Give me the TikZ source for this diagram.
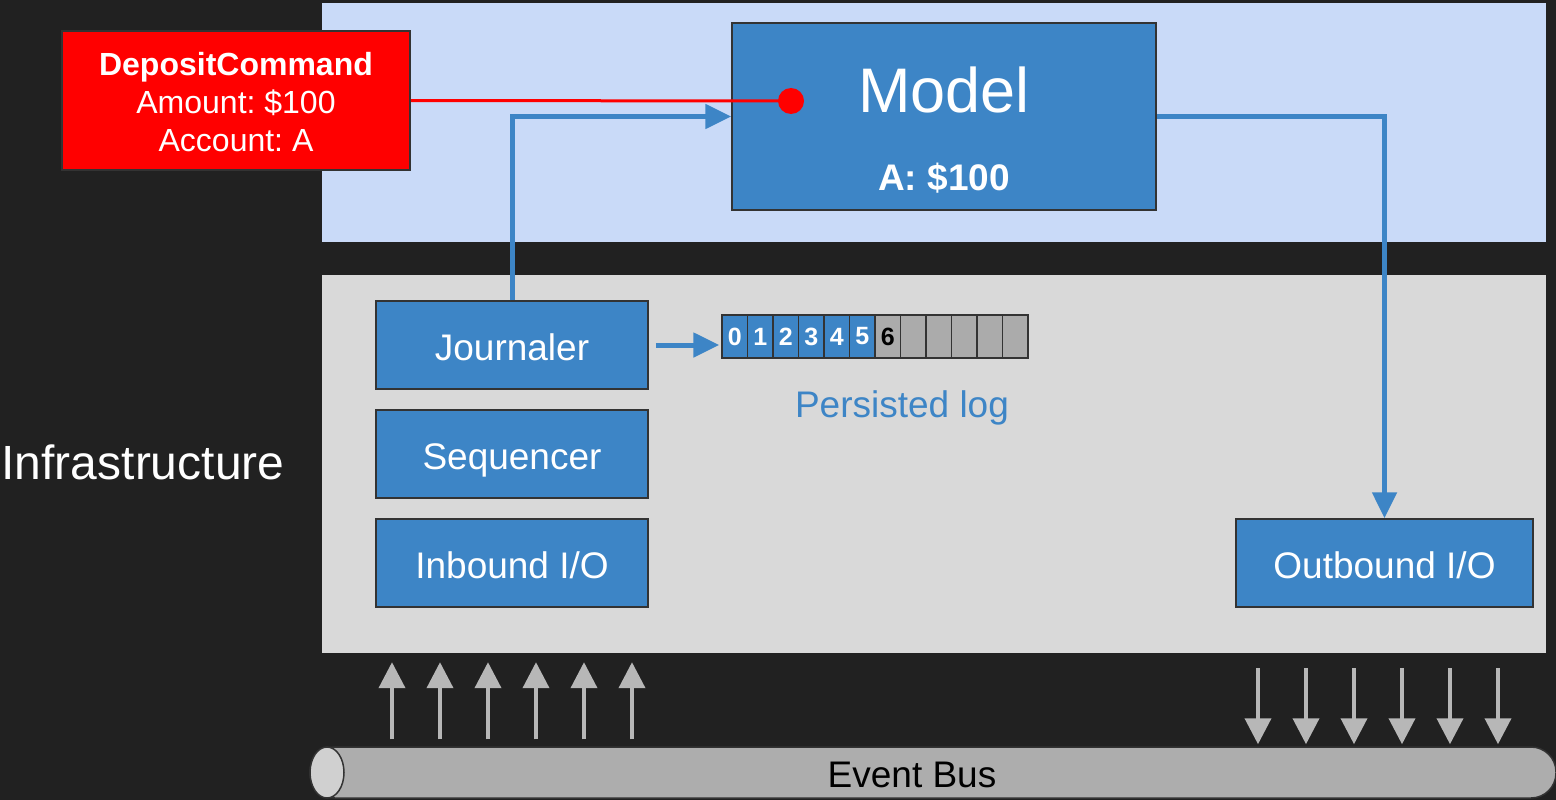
\documentclass[tikz,border=0pt]{standalone}
\usepackage{fontspec}
\setmainfont{Liberation Sans}
\frenchspacing
\usetikzlibrary{shapes.geometric,arrows.meta}

\definecolor{bgdark}{HTML}{212121}
\definecolor{modelblue}{HTML}{3D85C6}
\definecolor{panelblue}{HTML}{C9DAF8}
\definecolor{panelgray}{HTML}{D9D9D9}
\definecolor{busgray}{HTML}{ADADAD}
\definecolor{busend}{HTML}{D0D0D0}
\definecolor{arrowgray}{HTML}{B7B7B7}
\definecolor{edgegray}{HTML}{333333}
\definecolor{cellgray}{HTML}{ABABAB}

\begin{document}
\begin{tikzpicture}[x=1pt, y=-1pt,
  panel/.style={rectangle, inner sep=0pt, minimum width=1224pt},
  linebox/.style={text height=37pt, text depth=7pt},
  box/.style={rectangle, draw=edgegray, line width=1.5pt, fill=modelblue, text=white, inner sep=0pt},
  iobox/.style={box, linebox, minimum width=272pt, minimum height=88pt, font=\fontsize{37}{44}\selectfont},
  cell/.style={rectangle, draw=edgegray, line width=1.5pt, minimum width=25.5pt, minimum height=43pt, inner sep=0pt, font=\bfseries\fontsize{25}{30}\selectfont},
  arrow/.style={-{Triangle[length=26pt,width=24pt]}, line width=5pt, draw=modelblue},
  busarrow/.style={-{Triangle[length=26pt,width=26pt]}, line width=4pt, draw=arrowgray},
]

% === Canvas ===
\fill[bgdark] (0,0) rectangle (1556,800);
\useasboundingbox (0,0) rectangle (1556,800);

% === Panels ===
\node[panel, fill=panelblue, minimum height=239pt] (core) at (934,122.5) {};
\node[panel, fill=panelgray, minimum height=378pt] (infra) at (934,464) {};
\node[text=white, font=\fontsize{48}{56}\selectfont] (infralabel) at (143,462) {Infrastructure};

% === Command ===
\node[box, fill=red, align=center, minimum width=348pt, minimum height=139pt, font=\fontsize{32}{38}\selectfont] (cmd) at (236,100.5)
  {\rule{0pt}{0.85em}\textbf{DepositCommand}\\Amount: \$100\\Account: A};

% === Model ===
\node[box, minimum width=424pt, minimum height=187pt] (model) at (944,116.5) {};
\node[text=white, font=\fontsize{63}{70}\selectfont] (modeltitle) at (944,90) {Model};
\node[text=white, font=\bfseries\fontsize{37}{44}\selectfont] (balance) at (944,178) {A: \$100};

\draw[red, line width=3pt] (cmd.east) -- (791,101) node[circle, fill=red, minimum size=26pt, inner sep=0pt] (dot) {};

% === Infrastructure boxes ===
\node[iobox] (jour) at (512,345) {Journaler};
\node[iobox] (seq) at (512,454) {Sequencer};
\node[iobox] (inb) at (512,563) {Inbound I/O};
\node[iobox, minimum width=297pt] (outb) at (1384.5,563) {Outbound I/O};

% === Persisted log ===
\foreach \i in {0,...,5}
  \node[cell, fill=modelblue, text=white] (cell\i) at (734.75+25.5*\i,336.5) {\i};
\node[cell, fill=cellgray] (cell6) at (734.75+25.5*6,336.5) {6};
\foreach \i in {7,...,11}
  \node[cell, fill=cellgray] (cell\i) at (734.75+25.5*\i,336.5) {};
\node[linebox, text=modelblue, font=\fontsize{37}{44}\selectfont] (loglabel) at (902,402) {Persisted log};

% === Flow ===
\draw[arrow, shorten <=7pt, shorten >=2pt] (jour.east) -- (jour.east -| cell0.west);
\draw[arrow] (jour.north) |- (model.west);
\draw[arrow] (model.east) -| (outb.north);

% === Event bus (tube lying on its side) ===
\node[rectangle, rounded corners=25pt, draw=edgegray, line width=1.5pt, fill=busgray,
  minimum width=1246pt, minimum height=51pt, inner sep=0pt] (bus) at (933,772.5) {};
\filldraw[fill=busend, draw=edgegray, line width=1.5pt] (327,772.5) ellipse [x radius=17pt, y radius=25.5pt];
\node[font=\fontsize{37}{44}\selectfont] (buslabel) at (912,775) {Event Bus};

\foreach \x in {392,440,...,632}
  \draw[busarrow, shorten <=7pt, shorten >=9pt] (\x,0 |- bus.north) -- (\x,0 |- infra.south);
\foreach \x in {1258,1306,...,1498}
  \draw[busarrow, shorten <=15pt, shorten >=2pt] (\x,0 |- infra.south) -- (\x,0 |- bus.north);

\end{tikzpicture}
\end{document}
